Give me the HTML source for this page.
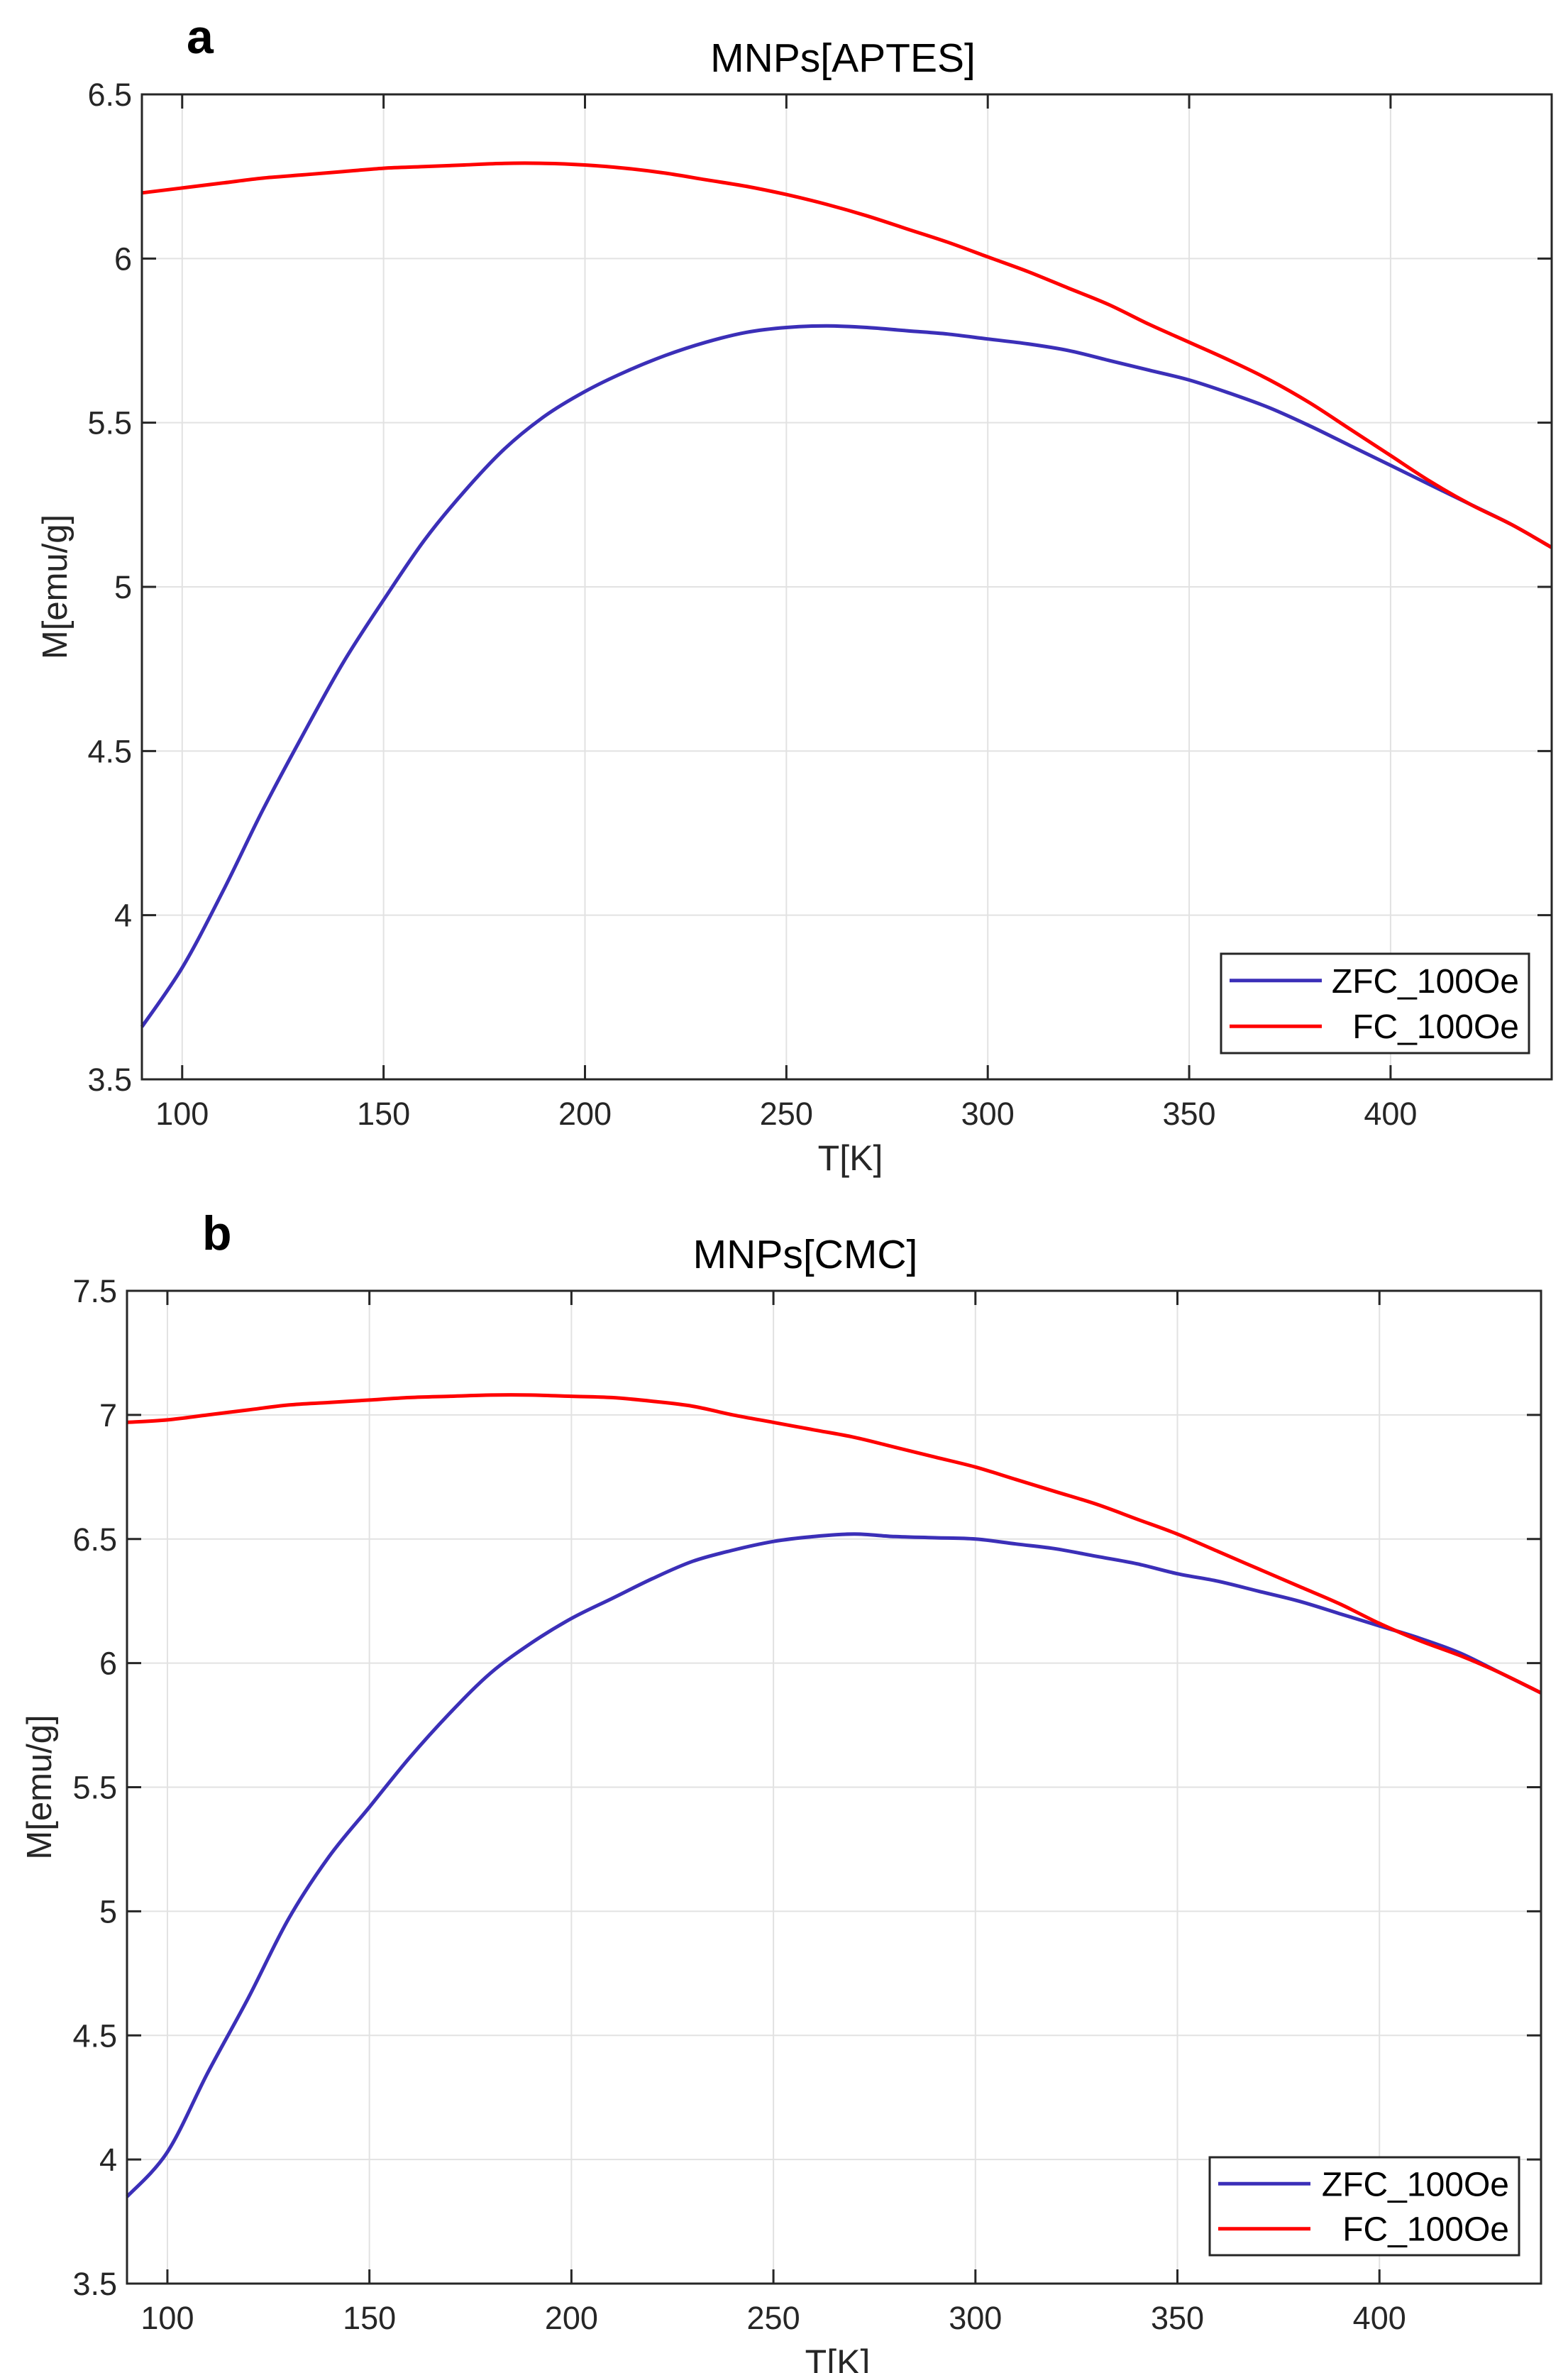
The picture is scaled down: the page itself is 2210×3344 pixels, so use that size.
<!DOCTYPE html>
<html><head><meta charset="utf-8"><style>
html,body{margin:0;padding:0;background:#fff;}
svg{display:block;font-family:"Liberation Sans",sans-serif;}
</style></head><body>
<svg id="fig" width="2210" height="3344" viewBox="0 0 2210 3344" xmlns="http://www.w3.org/2000/svg"></svg>
<script>
const temps = [90,100,110,120,130,140,150,160,170,180,190,200,210,220,230,240,250,260,270,280,290,300,310,320,330,340,350,360,370,380,390,400,410,420,430,440];
const zfcA = [3.66,3.84,4.07,4.32,4.55,4.77,4.96,5.14,5.29,5.42,5.52,5.595,5.655,5.705,5.745,5.775,5.79,5.795,5.79,5.78,5.77,5.755,5.74,5.72,5.69,5.66,5.63,5.59,5.545,5.49,5.43,5.37,5.31,5.25,5.19,5.12];
const fcA = [6.2,6.215,6.23,6.245,6.255,6.265,6.275,6.28,6.285,6.29,6.29,6.285,6.275,6.26,6.24,6.22,6.195,6.165,6.13,6.09,6.05,6.005,5.96,5.91,5.86,5.80,5.745,5.69,5.63,5.56,5.48,5.40,5.32,5.25,5.19,5.12];
const zfcB = [3.85,4.03,4.35,4.65,4.97,5.22,5.42,5.62,5.8,5.96,6.08,6.18,6.26,6.34,6.41,6.455,6.49,6.51,6.52,6.51,6.505,6.5,6.48,6.46,6.43,6.4,6.36,6.33,6.29,6.25,6.2,6.15,6.1,6.04,5.96,5.88];
const fcB = [6.97,6.98,7.0,7.02,7.04,7.05,7.06,7.07,7.075,7.08,7.08,7.075,7.07,7.055,7.035,7.0,6.97,6.94,6.91,6.87,6.83,6.79,6.74,6.69,6.64,6.58,6.52,6.45,6.38,6.31,6.24,6.16,6.09,6.03,5.96,5.88];
const xTicks = [100,150,200,250,300,350,400];
const yTicksA = [3.5,4,4.5,5,5.5,6,6.5];
const yTicksB = [3.5,4,4.5,5,5.5,6,6.5,7,7.5];
const legendLabels = ['ZFC_100Oe','FC_100Oe'];

const NS='http://www.w3.org/2000/svg';
const svg=document.getElementById('fig');
function mk(tag,attrs,parent){const e=document.createElementNS(NS,tag);for(const k in attrs)e.setAttribute(k,attrs[k]);(parent||svg).appendChild(e);return e;}

function smoothPath(pts){
  let d='M'+pts[0][0].toFixed(1)+' '+pts[0][1].toFixed(1);
  for(let i=0;i<pts.length-1;i++){
    const p0=pts[Math.max(0,i-1)],p1=pts[i],p2=pts[i+1],p3=pts[Math.min(pts.length-1,i+2)];
    const c1=[p1[0]+(p2[0]-p0[0])/6,p1[1]+(p2[1]-p0[1])/6];
    const c2=[p2[0]-(p3[0]-p1[0])/6,p2[1]-(p3[1]-p1[1])/6];
    d+=` C${c1[0].toFixed(1)} ${c1[1].toFixed(1)} ${c2[0].toFixed(1)} ${c2[1].toFixed(1)} ${p2[0].toFixed(1)} ${p2[1].toFixed(1)}`;
  }
  return d;
}

function panel(cfg){
  const g=mk('g',{});
  
  
  const {L,R,T,B,xmin,xmax,ymin,ymax}=cfg;
  const sx=v=>L+(v-xmin)/(xmax-xmin)*(R-L);
  const sy=v=>B-(v-ymin)/(ymax-ymin)*(B-T);
  xTicks.forEach(t=>{const l=mk('line',{x1:sx(t),x2:sx(t),y1:T,y2:B,stroke:'#e2e2e2','stroke-width':2},g);
    
    });
  cfg.yTicks.forEach(t=>{const l=mk('line',{x1:L,x2:R,y1:sy(t),y2:sy(t),stroke:'#e2e2e2','stroke-width':2},g);
    
    });
  const series=[[cfg.zfc,'#3b2fb8','zfc-line'],[cfg.fc,'#ff0000','fc-line']];
  series.forEach(([arr,col,nm])=>{
    const pts=arr.map((v,i)=>[sx(temps[i]),sy(v)]);
    const p=mk('path',{d:smoothPath(pts),fill:'none',stroke:col,'stroke-width':5,'stroke-linejoin':'round'},g);
    
    
  });
  const box=mk('rect',{x:L,y:T,width:R-L,height:B-T,fill:'none',stroke:'#262626','stroke-width':3},g);
  
  
  xTicks.forEach(t=>{
    mk('line',{x1:sx(t),x2:sx(t),y1:B,y2:B-20,stroke:'#262626','stroke-width':3},g);
    mk('line',{x1:sx(t),x2:sx(t),y1:T,y2:T+20,stroke:'#262626','stroke-width':3},g);
    const tx=mk('text',{x:sx(t),y:B+64,'font-size':45,'text-anchor':'middle',fill:'#262626'},g);
    tx.textContent=t;
    
    
  });
  cfg.yTicks.forEach(t=>{
    mk('line',{x1:L,x2:L+20,y1:sy(t),y2:sy(t),stroke:'#262626','stroke-width':3},g);
    mk('line',{x1:R,x2:R-20,y1:sy(t),y2:sy(t),stroke:'#262626','stroke-width':3},g);
    const tx=mk('text',{x:L-14,y:sy(t)+16,'font-size':45,'text-anchor':'end',fill:'#262626'},g);
    tx.textContent=t;
    
    
  });
  const xl=mk('text',{x:(L+R)/2+5,y:B+128,'font-size':50,'text-anchor':'middle',fill:'#262626'},g);
  xl.textContent='T[K]';
  
  
  const yl=mk('text',{x:0,y:0,'font-size':49,'text-anchor':'middle',fill:'#262626',transform:`translate(${cfg.ylx},${(T+B)/2}) rotate(-90)`},g);
  yl.textContent='M[emu/g]';
  
  
  const ti=mk('text',{x:cfg.titleX,y:T-32,'font-size':57,'text-anchor':'middle',fill:'#000'},g);
  ti.textContent=cfg.title;
  
  
  const pl=mk('text',{x:cfg.letterX,y:T-58,'font-size':68,'font-weight':'bold',fill:'#000'},g);
  pl.textContent=cfg.letter;
  
  
  const lg=cfg.leg;
  const lgG=mk('g',{},g);
  
  
  mk('rect',{x:lg.x,y:lg.y,width:lg.w,height:lg.h,fill:'#fff',stroke:'#262626','stroke-width':3},lgG);
  const cols=['#3b2fb8','#ff0000'];
  legendLabels.forEach((lab,i)=>{
    const yy=lg.y+lg.h*(0.27+0.46*i);
    mk('line',{x1:lg.x+12,x2:lg.x+142,y1:yy,y2:yy,stroke:cols[i],'stroke-width':5},lgG);
    const t=mk('text',{x:lg.x+lg.w-14,y:yy+17,'font-size':48,'text-anchor':'end',fill:'#000'},lgG);
    t.textContent=lab;
    
    
  });
}

panel({name:'chart-a',L:200,R:2187,T:133,B:1521,xmin:90,xmax:440,ymin:3.5,ymax:6.5,yTicks:yTicksA,zfc:zfcA,fc:fcA,
  title:'MNPs[APTES]',titleX:1188,letter:'a',letterX:263,ylx:94,
  leg:{x:1721,y:1344,w:434,h:140}});
panel({name:'chart-b',L:179,R:2172,T:1819,B:3218,xmin:90,xmax:440,ymin:3.5,ymax:7.5,yTicks:yTicksB,zfc:zfcB,fc:fcB,
  title:'MNPs[CMC]',titleX:1135,letter:'b',letterX:285,ylx:72,
  leg:{x:1705,y:3040,w:436,h:138}});
</script>
</body></html>
